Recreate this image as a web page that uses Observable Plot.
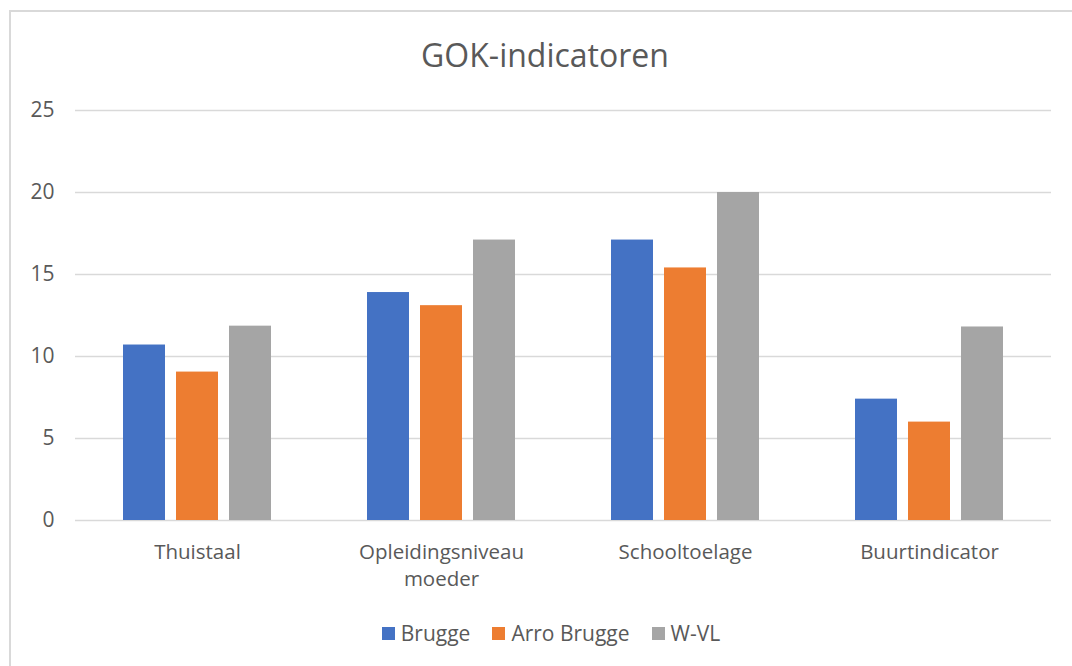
<!DOCTYPE html>
<html>
<head>
<meta charset="utf-8">
<script src="https://cdn.jsdelivr.net/npm/d3@7"></script>
<script src="https://cdn.jsdelivr.net/npm/@observablehq/plot@0.6"></script>
<style>
  html, body { margin: 0; padding: 0; background: #ffffff; }
  #wrap { position: relative; width: 1072px; height: 666px; overflow: hidden; font-family: "Open Sans", sans-serif; color: #595959; }
  #frame { position: absolute; left: 9px; top: 10px; width: 1100px; height: 700px; border: 2px solid #d9d9d9; box-sizing: border-box; }
  #title { position: absolute; left: 345px; width: 400px; top: 39px; line-height: 32px; font-size: 32px; text-align: center; white-space: nowrap; }
  #chart { position: absolute; left: 0; top: 0; }
  #legend { position: absolute; left: 0; width: 1102px; top: 620px; line-height: 26px; font-size: 21px; display: flex; justify-content: center; gap: 22px; }
  .item { display: flex; align-items: center; gap: 6px; }
  .sw { width: 13px; height: 13px; display: inline-block; }
</style>
</head>
<body>
<div id="wrap">
  <div id="frame"></div>
  <div id="title">GOK-indicatoren</div>
  <div id="chart"></div>
  <div id="legend"></div>
</div>
<script>
const categories = ["Thuistaal", "Opleidingsniveau\nmoeder", "Schooltoelage", "Buurtindicator"];
const series = ["Brugge", "Arro Brugge", "W-VL"];
const colors = ["#4472C4", "#ED7D31", "#A5A5A5"];
const brugge = [10.7, 13.9, 17.1, 7.4];
const arroBrugge = [9.05, 13.1, 15.4, 6.0];
const wvl = [11.85, 17.1, 20.0, 11.8];
const yTicks = [0, 5, 10, 15, 20, 25];

const seriesValues = [brugge, arroBrugge, wvl];
const data = [];
categories.forEach((c, i) => {
  series.forEach((s, j) => {
    data.push({category: c, series: s, value: seriesValues[j][i]});
  });
});

const chart = Plot.plot({
  width: 1072,
  height: 600,
  marginLeft: 73,
  marginRight: 20,
  marginTop: 110,
  marginBottom: 80,
  style: {fontFamily: "Open Sans, sans-serif", fontSize: "20px", color: "#595959", background: "transparent", overflow: "visible"},
  fx: {domain: categories, padding: 0, axis: null},
  x: {domain: series, paddingInner: 0.2, paddingOuter: 0.875, axis: null},
  y: {domain: [0, 25], axis: null},
  color: {domain: series, range: colors},
  marks: [
    Plot.ruleY(yTicks, {stroke: "#d9d9d9", strokeWidth: 1.5}),
    Plot.barY(data, {fx: "category", x: "series", y: "value", fill: "series"}),
    Plot.axisY({ticks: yTicks, tickSize: 0, tickPadding: 21, label: null, fontSize: 21, fill: "#595959"}),
    Plot.axisFx({anchor: "bottom", tickSize: 0, tickPadding: 19, label: null, fontSize: 20.5, lineHeight: 1.33, lineAnchor: "top", fill: "#595959"})
  ]
});
document.getElementById("chart").appendChild(chart);

const legend = document.getElementById("legend");
series.forEach((s, i) => {
  const item = document.createElement("div");
  item.className = "item";
  const sw = document.createElement("span");
  sw.className = "sw";
  sw.style.background = colors[i];
  const t = document.createElement("span");
  t.textContent = s;
  item.appendChild(sw);
  item.appendChild(t);
  legend.appendChild(item);
});
</script>
</body>
</html>
